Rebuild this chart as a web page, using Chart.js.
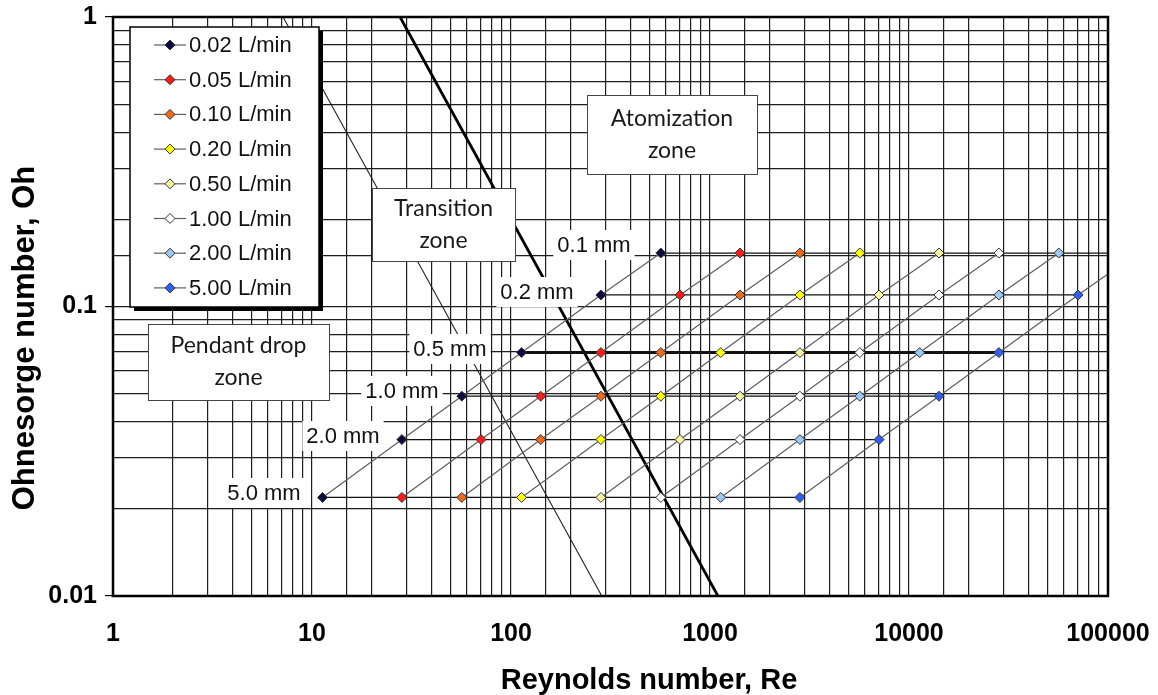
<!DOCTYPE html>
<html>
<head>
<meta charset="utf-8">
<script src="https://cdn.jsdelivr.net/npm/chart.js@4.4.1/dist/chart.umd.min.js"></script>
<style>
  html, body { margin: 0; padding: 0; background: #fff; }
  #wrap { width: 1158px; height: 695px; position: relative; }
</style>
</head>
<body>
<div id="wrap"><canvas id="ohChart"></canvas></div>
<script>
// flow rates (one series each) and their marker fills
const flowLabels = ['0.02 L/min', '0.05 L/min', '0.10 L/min', '0.20 L/min',
                    '0.50 L/min', '1.00 L/min', '2.00 L/min', '5.00 L/min']
const flowColors = ['#0b0b40', '#ff1a1a', '#ee6a1a', '#ffff00',
                    '#f7f3a0', '#ffffff', '#9cc8f5', '#2f5ff0']

// nozzle diameters, same order as the columns of reValues
const diameterLabels = ['5.0 mm', '2.0 mm', '1.0 mm', '0.5 mm', '0.2 mm', '0.1 mm']
const ohValues = [0.0219, 0.0347, 0.0490, 0.0693, 0.1096, 0.153]

// Reynolds number for each flow rate (rows) and diameter (columns)
const reValues = [
  [11.3, 28.3, 56.6, 113, 283, 566],
  [28.3, 70.7, 141, 283, 707, 1415],
  [56.6, 141, 283, 566, 1415, 2830],
  [113, 283, 566, 1132, 2830, 5660],
  [283, 707, 1415, 2830, 7070, 14150],
  [566, 1415, 2830, 5660, 14150, 28300],
  [1132, 2830, 5660, 11320, 28300, 56600],
  [2830, 7070, 14150, 28300, 70700, 141500]
]

// zone boundaries (Re, Oh)
const pendantBoundary = [[7.15, 1], [286, 0.01]]
const atomizationBoundary = [[27.7, 1], [1096, 0.01]]

const xLabelTicks = [1, 10, 100, 1000, 10000, 100000]
const yLabelTicks = [0.01, 0.1, 1]

// text boxes and labels, in canvas pixels
const zoneBoxes = [
  { lines: ['Atomization', 'zone'], x: 587, y: 95, w: 170, h: 79 },
  { lines: ['Transition', 'zone'], x: 372, y: 188, w: 143, h: 73 },
  { lines: ['Pendant drop', 'zone'], x: 148, y: 324, w: 181, h: 76 }
]
const diameterLabelPos = [[264, 493], [343, 436], [402, 391], [450, 349], [537, 292], [594, 245]]
const legendBox = { x: 130, y: 27, w: 189, h: 280, rowTop: 45, rowGap: 34.7 }

const AXIS_FONT = '"Liberation Sans", Arial, sans-serif'

function isDecade(v) {
  const l = Math.log10(v)
  return Math.abs(l - Math.round(l)) < 1e-6
}
function showDecade(list) {
  return function(v) {
    return list.some(t => Math.abs(t - v) / t < 1e-6) ? String(Number(v.toPrecision(6))) : ''
  }
}
// keep the plot box fixed: no extra room for overhanging tick labels
function noLabelPadding(s) {
  s.paddingTop = 0
  s.paddingBottom = 0
  s.paddingLeft = 0
  s.paddingRight = 0
}

const datasets = []

for (let i = 0; i < flowLabels.length; i++) {
  datasets.push({
    label: flowLabels[i],
    data: reValues[i].map((re, j) => ({ x: re, y: ohValues[j] })),
    showLine: true,
    borderColor: '#5e5e5e',
    borderWidth: 1.2,
    pointStyle: 'rectRot',
    pointRadius: 5,
    pointBackgroundColor: flowColors[i],
    pointBorderColor: '#333',
    pointBorderWidth: 1,
    flowSeries: true
  })
}

// horizontal lines joining all flow rates at one diameter
for (let j = 0; j < diameterLabels.length; j++) {
  datasets.push({
    label: diameterLabels[j],
    data: reValues.map(row => ({ x: row[j], y: ohValues[j] })),
    showLine: true,
    borderColor: '#111',
    borderWidth: diameterLabels[j] === '0.5 mm' ? 2.6 : 1.3,
    pointRadius: 0
  })
}

datasets.push({
  label: 'pendant',
  data: pendantBoundary.map(p => ({ x: p[0], y: p[1] })),
  showLine: true, borderColor: '#222', borderWidth: 1.1, pointRadius: 0
})
datasets.push({
  label: 'atomization',
  data: atomizationBoundary.map(p => ({ x: p[0], y: p[1] })),
  showLine: true, borderColor: '#000', borderWidth: 2.8, pointRadius: 0
})

const overlay = {
  id: 'overlay',
  afterDatasetsDraw(chart) {
    const ctx = chart.ctx
    const a = chart.chartArea
    ctx.save()

    // plot frame
    ctx.strokeStyle = '#000'
    ctx.lineWidth = 2.5
    ctx.strokeRect(a.left, a.top, a.right - a.left, a.bottom - a.top)

    // zone text boxes
    ctx.font = '23px Lato, "Open Sans", sans-serif'
    ctx.textAlign = 'center'
    ctx.textBaseline = 'middle'
    zoneBoxes.forEach(b => {
      ctx.fillStyle = '#fff'
      ctx.fillRect(b.x, b.y, b.w, b.h)
      ctx.strokeStyle = '#444'
      ctx.lineWidth = 1
      ctx.strokeRect(b.x + 0.5, b.y + 0.5, b.w, b.h)
      ctx.fillStyle = '#1a1a1a'
      const cx = b.x + b.w / 2
      const top = b.y + b.h / 2 - 16
      b.lines.forEach((t, k) => ctx.fillText(t, cx, top + k * 32))
    })

    // diameter labels with white backing
    ctx.font = '22px ' + AXIS_FONT
    diameterLabels.forEach((t, j) => {
      const p = diameterLabelPos[j]
      const w = ctx.measureText(t).width + 8
      ctx.fillStyle = '#fff'
      ctx.fillRect(p[0] - w / 2, p[1] - 15, w, 30)
      ctx.fillStyle = '#111'
      ctx.fillText(t, p[0], p[1] + 1)
    })

    // legend with drop shadow
    const L = legendBox
    ctx.fillStyle = '#000'
    ctx.fillRect(L.x + 4, L.y + 4, L.w, L.h)
    ctx.fillStyle = '#fff'
    ctx.fillRect(L.x, L.y, L.w, L.h)
    ctx.strokeStyle = '#000'
    ctx.lineWidth = 1.5
    ctx.strokeRect(L.x, L.y, L.w, L.h)
    ctx.font = '22px ' + AXIS_FONT
    ctx.textAlign = 'left'
    chart.data.datasets.filter(d => d.flowSeries).forEach((d, i) => {
      const y = L.rowTop + i * L.rowGap
      ctx.strokeStyle = d.borderColor
      ctx.lineWidth = 1.2
      ctx.beginPath()
      ctx.moveTo(L.x + 24, y)
      ctx.lineTo(L.x + 56, y)
      ctx.stroke()
      ctx.fillStyle = d.pointBackgroundColor
      ctx.strokeStyle = d.pointBorderColor
      ctx.lineWidth = 1
      ctx.beginPath()
      ctx.moveTo(L.x + 35, y); ctx.lineTo(L.x + 40, y - 5)
      ctx.lineTo(L.x + 45, y); ctx.lineTo(L.x + 40, y + 5)
      ctx.closePath(); ctx.fill(); ctx.stroke()
      ctx.fillStyle = '#111'
      ctx.fillText(d.label, L.x + 59, y + 1)
    })
    ctx.restore()
  },
  afterDraw(chart) {
    const ctx = chart.ctx
    ctx.save()
    ctx.fillStyle = '#000'
    ctx.textAlign = 'center'
    ctx.textBaseline = 'alphabetic'
    ctx.font = 'bold 29px ' + AXIS_FONT
    ctx.fillText('Reynolds number, Re', 649, 689)
    ctx.translate(34, 338)
    ctx.rotate(-Math.PI / 2)
    ctx.font = 'bold 31px ' + AXIS_FONT
    ctx.fillText('Ohnesorge number, Oh', 0, 0)
    ctx.restore()
  }
}

const ctx = document.getElementById('ohChart').getContext('2d')
const ohChart = new Chart(ctx, {
  type: 'scatter',
  data: { datasets: datasets },
  options: {
    responsive: true,
    maintainAspectRatio: false,
    animation: false,
    devicePixelRatio: 1,
    layout: { padding: { top: 17, right: 50, left: 0, bottom: 0 } },
    plugins: { legend: { display: false }, tooltip: { enabled: false } },
    scales: {
      x: {
        type: 'logarithmic',
        min: 1,
        max: 100000,
        afterFit: s => { s.height = 99; noLabelPadding(s) },
        border: { display: false },
        grid: { color: '#1e1e1e', lineWidth: 1.2, tickLength: 10, tickColor: 'rgba(0,0,0,0)' },
        ticks: {
          autoSkip: false, maxRotation: 0, padding: 13, color: '#000',
          font: { family: AXIS_FONT, size: 25, weight: 'bold' },
          callback: showDecade(xLabelTicks)
        }
      },
      y: {
        type: 'logarithmic',
        min: 0.01,
        max: 1,
        afterFit: s => { s.width = 113; noLabelPadding(s) },
        border: { display: false },
        grid: {
          color: '#1e1e1e', lineWidth: 1.2, tickLength: 8,
          tickColor: c => (c.tick && isDecade(c.tick.value)) ? '#000' : 'rgba(0,0,0,0)'
        },
        ticks: {
          autoSkip: false, padding: 8, color: '#000',
          font: { family: AXIS_FONT, size: 25, weight: 'bold' },
          callback: showDecade(yLabelTicks)
        }
      }
    }
  },
  plugins: [overlay]
})
</script>
</body>
</html>
